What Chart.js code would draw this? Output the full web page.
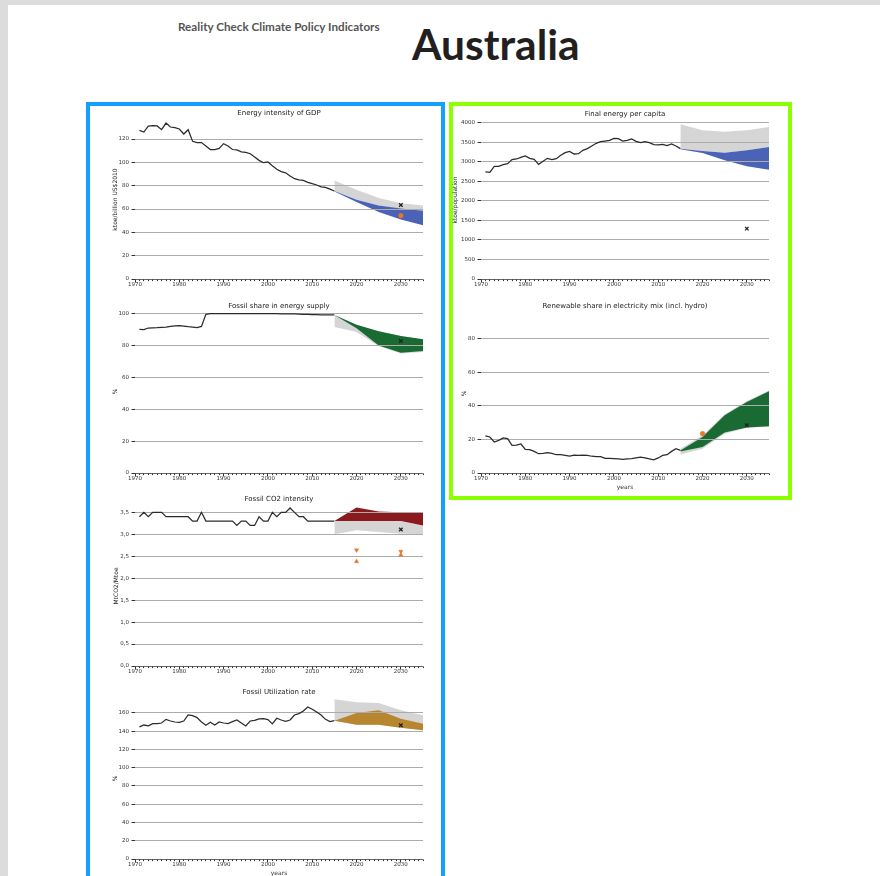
<!DOCTYPE html>
<html>
<head>
<meta charset="utf-8">
<title>Reality Check Climate Policy Indicators – Australia</title>
<script src="https://cdn.jsdelivr.net/npm/chart.js@4.4.1/dist/chart.umd.min.js"></script>
<style>
  html, body { margin: 0; padding: 0; }
  body { width: 880px; height: 876px; overflow: hidden; background: #dcdcdc; position: relative; }
  #sheet { position: absolute; left: 8px; top: 5px; width: 872px; height: 871px; background: #fff; }
  .frame { position: absolute; box-sizing: border-box; }
  #frameLeft { left: 86px; top: 102px; width: 359px; height: 800px; border: 4px solid #14a0ff; }
  #frameRight { left: 449px; top: 102px; width: 343px; height: 398px; border: 4px solid #8cff00; }
  #kicker { position: absolute; left: 178px; top: 20px; font: 700 11.7px/13px Lato, sans-serif; color: #555; white-space: nowrap; }
  #country { position: absolute; left: 412px; top: 23px; font: 700 42.5px/42px Lato, sans-serif; color: #231f20; white-space: nowrap; }
  canvas { position: absolute; }
</style>
</head>
<body>
<div id="sheet"></div>
<div class="frame" id="frameLeft"></div>
<div class="frame" id="frameRight"></div>
<div id="kicker">Reality Check Climate Policy Indicators</div>
<div id="country">Australia</div>
<script>
// ---------- data ----------
const histYears = [1971, 1972, 1973, 1974, 1975, 1976, 1977, 1978, 1979, 1980,
                   1981, 1982, 1983, 1984, 1985, 1986, 1987, 1988, 1989, 1990,
                   1991, 1992, 1993, 1994, 1995, 1996, 1997, 1998, 1999, 2000,
                   2001, 2002, 2003, 2004, 2005, 2006, 2007, 2008, 2009, 2010,
                   2011, 2012, 2013, 2014, 2015];
const projYears = [2015, 2020, 2025, 2030, 2035];

// Energy intensity of GDP (ktoe/billion US$2010)
const energyIntensity = [127.4, 126.0, 131.0, 131.4, 131.2, 128.0, 133.7, 130.3, 129.7, 128.6,
                         124.3, 128.0, 118.0, 117.0, 117.0, 114.0, 111.0, 111.0, 112.0, 116.0,
                         114.0, 111.0, 110.6, 109.0, 108.6, 107.4, 104.6, 101.7, 99.7, 100.3,
                         97.0, 94.0, 92.0, 91.0, 88.3, 86.0, 85.0, 84.6, 82.9, 81.7,
                         80.6, 79.0, 78.6, 77.0, 75.4];
const eiGreyHigh = [84.5, 76.5, 69.5, 65.0, 63.0];
const eiGreyLow  = [75.4, 68.0, 63.0, 60.0, 58.0];
const eiBandHigh = [75.4, 68.0, 63.0, 60.5, 58.5];
const eiBandLow  = [75.0, 66.0, 57.5, 51.0, 46.0];
const eiCross = [[2030, 63.4]];
const eiDot   = [[2030, 54.3]];

// Fossil share in energy supply (%)
const fossilShare = [90.2, 90.0, 91.0, 91.1, 91.2, 91.4, 91.6, 92.0, 92.3, 92.5,
                     92.2, 91.8, 91.5, 91.2, 92.0, 99.6, 100.0, 100.0, 100.0, 100.0,
                     100.0, 100.0, 100.0, 100.0, 100.0, 100.0, 100.0, 100.0, 100.0, 100.0,
                     100.0, 100.0, 99.9, 99.9, 99.9, 99.8, 99.7, 99.6, 99.5, 99.4,
                     99.4, 99.3, 99.3, 99.2, 99.2];
const fsGreyHigh = [99.2, 93.1, 89.0, 86.0, 83.9];
const fsGreyLow  = [91.6, 88.5, 79.5, 75.0, 76.0];
const fsBandHigh = [99.2, 93.1, 89.0, 86.0, 83.9];
const fsBandLow  = [99.2, 90.8, 80.0, 75.5, 76.5];
const fsCross = [[2030, 82.8]];

// Fossil CO2 intensity (MtCO2/Mtoe)
const co2Intensity = [3.4, 3.5, 3.4, 3.5, 3.5, 3.5, 3.4, 3.4, 3.4, 3.4,
                      3.4, 3.4, 3.3, 3.3, 3.5, 3.3, 3.3, 3.3, 3.3, 3.3,
                      3.3, 3.3, 3.2, 3.3, 3.3, 3.2, 3.2, 3.4, 3.3, 3.3,
                      3.5, 3.4, 3.5, 3.5, 3.6, 3.5, 3.4, 3.4, 3.3, 3.3,
                      3.3, 3.3, 3.3, 3.3, 3.3];
const ciGreyHigh = [3.30, 3.30, 3.30, 3.30, 3.20];
const ciGreyLow  = [3.00, 3.09, 3.05, 3.01, 3.00];
const ciBandHigh = [3.30, 3.61, 3.52, 3.50, 3.50];
const ciBandLow  = [3.30, 3.30, 3.30, 3.30, 3.20];
const ciCross = [[2030, 3.11]];
const ciTriDown = [[2020, 2.64], [2030, 2.61]];
const ciTriUp   = [[2020, 2.38], [2030, 2.53]];

// Fossil utilization rate (%)
const utilization = [144.7, 146.8, 145.8, 148.3, 148.3, 149.0, 153.0, 151.2, 150.1, 149.8,
                     151.2, 157.8, 157.0, 154.9, 150.1, 146.5, 149.8, 146.8, 150.1, 149.0,
                     148.3, 150.5, 152.3, 149.0, 145.8, 151.2, 152.0, 153.4, 153.8, 152.7,
                     148.0, 154.2, 152.3, 150.9, 152.3, 157.8, 159.3, 162.2, 166.6, 164.0,
                     161.0, 157.8, 153.0, 150.5, 151.6];
const urGreyHigh = [175.0, 171.7, 171.0, 163.0, 157.4];
const urGreyLow  = [151.6, 147.2, 147.2, 143.9, 141.0];
const urBandHigh = [151.6, 160.0, 163.0, 153.8, 148.3];
const urBandLow  = [151.6, 147.2, 147.2, 143.9, 141.0];
const urCross = [[2030, 146.5]];

// Final energy per capita (ktoe/population)
const energyPerCapita = [2744, 2735, 2889, 2889, 2932, 2957, 3060, 3077, 3120, 3154,
                         3094, 3068, 2940, 3017, 3094, 3060, 3085, 3171, 3239, 3273,
                         3205, 3214, 3299, 3342, 3410, 3479, 3521, 3538, 3556, 3607,
                         3598, 3538, 3556, 3590, 3530, 3496, 3521, 3496, 3444, 3436,
                         3453, 3419, 3462, 3410, 3342];
const fcGreyHigh = [3966, 3812, 3778, 3812, 3897];
const fcGreyLow  = [3342, 3282, 3239, 3299, 3385];
const fcBandHigh = [3342, 3282, 3239, 3299, 3385];
const fcBandLow  = [3325, 3230, 3043, 2889, 2803];
const fcCross = [[2030, 1291]];

// Renewable share in electricity mix (%)
const renewableShare = [22.1, 21.5, 18.5, 19.5, 20.9, 20.5, 16.5, 16.7, 17.3, 14.1,
                        13.9, 12.9, 11.5, 11.7, 12.1, 11.7, 10.9, 10.9, 10.5, 10.1,
                        10.7, 10.5, 10.7, 10.5, 10.0, 9.8, 9.8, 8.8, 8.8, 8.6,
                        8.4, 8.2, 8.4, 8.6, 9.0, 9.4, 9.0, 8.4, 7.8, 9.0,
                        10.5, 10.9, 12.9, 14.5, 13.5];
const rsGreyHigh = [14.5, 22.5, 35.0, 43.0, 49.2];
const rsGreyLow  = [11.0, 14.5, 23.5, 27.0, 27.6];
const rsBandHigh = [13.5, 21.5, 34.4, 42.4, 48.8];
const rsBandLow  = [12.9, 15.5, 24.1, 27.1, 27.9];
const rsCross = [[2030, 28.5]];
const rsDot   = [[2020, 23.5]];

// ---------- styling ----------
const FONT = "'DejaVu Sans', sans-serif";
const GRID = '#acacac';
const INK = '#2b2b2b';
const GREY_BAND = '#d5d5d5';
const ORANGE = '#e4762f';
Chart.defaults.font.family = FONT;

const pts = (xs, ys) => xs.map((x, i) => ({ x, y: ys[i] }));
const pairs = list => list.map(([x, y]) => ({ x, y }));

function bandSets(high, low, color) {
  return [
    { data: pts(projYears, high), fill: '+1', backgroundColor: color, borderColor: 'transparent',
      borderWidth: 0, pointRadius: 0 },
    { data: pts(projYears, low), fill: false, borderColor: 'transparent', borderWidth: 0, pointRadius: 0 }
  ];
}
function historySet(values) {
  return { data: pts(histYears, values), borderColor: INK, borderWidth: 1.25, pointRadius: 0, fill: false };
}
function markerSet(list, style, color, radius, rotation) {
  const cross = style === 'crossRot';
  return {
    data: pairs(list), showLine: false, fill: false,
    pointStyle: style, pointRadius: radius, pointRotation: rotation || 0,
    pointBackgroundColor: color, pointBorderColor: color,
    pointBorderWidth: cross ? 1.3 : 0.4
  };
}

// Panel title, grid redrawn over the range bands, and a yearly-ticked x axis line.
function panelDecor(title, titleY) {
  return {
    id: 'panelDecor',
    beforeDatasetsDraw(chart) {
      const { ctx, chartArea: a, scales: { y } } = chart;
      ctx.save();
      ctx.strokeStyle = GRID;
      ctx.lineWidth = 1;
      y.ticks.forEach(t => {
        const p = Math.round(y.getPixelForValue(t.value) - 0.5) + 0.5;
        ctx.beginPath(); ctx.moveTo(a.left, p); ctx.lineTo(a.right, p); ctx.stroke();
      });
      ctx.restore();
    },
    afterDraw(chart) {
      const { ctx, chartArea: a, scales: { x } } = chart;
      ctx.save();
      const base = Math.round(a.bottom - 0.5) + 0.5;
      ctx.strokeStyle = '#555';
      ctx.lineWidth = 0.8;
      ctx.beginPath(); ctx.moveTo(a.left, base); ctx.lineTo(a.right, base); ctx.stroke();
      ctx.strokeStyle = '#333';
      ctx.lineWidth = 1;
      for (let yr = Math.ceil(x.min); yr <= x.max; yr++) {
        const px = Math.round(x.getPixelForValue(yr) - 0.5) + 0.5;
        const len = yr % 10 === 0 ? 3 : 1.6;
        ctx.beginPath(); ctx.moveTo(px, base); ctx.lineTo(px, base + len); ctx.stroke();
      }
      ctx.fillStyle = '#222';
      ctx.font = '7px ' + FONT;
      ctx.textAlign = 'center';
      ctx.textBaseline = 'middle';
      ctx.fillText(title, (a.left + a.right) / 2, titleY);
      ctx.restore();
    }
  };
}

// Regular ticks from zero up to the top of the value range.
function stepTicks(step, max) {
  const out = [];
  for (let i = 0; i * step <= max + 1e-9; i++) out.push({ value: Math.round(i * step * 1000) / 1000 });
  return out;
}

function makePanel(p) {
  const c = document.createElement('canvas');
  c.width = p.box.w; c.height = p.box.h;
  c.style.left = p.box.x + 'px'; c.style.top = p.box.y + 'px';
  c.style.width = p.box.w + 'px'; c.style.height = p.box.h + 'px';
  document.body.appendChild(c);

  const yW = p.area.L - p.box.x;
  const xH = 18;
  const padRight = p.box.x + p.box.w - p.area.R;
  const padTop = p.area.T - p.box.y;
  const padBottom = p.box.y + p.box.h - p.area.B - xH;

  new Chart(c, {
    type: 'line',
    data: { datasets: p.datasets },
    options: {
      responsive: false, animation: false, events: [], devicePixelRatio: 1,
      layout: { padding: { left: 0, right: padRight, top: padTop, bottom: padBottom } },
      plugins: { legend: { display: false }, tooltip: { enabled: false },
                 filler: { drawTime: 'beforeDatasetsDraw' } },
      scales: {
        x: {
          type: 'linear', min: 1970, max: 2035,
          afterBuildTicks(s) { s.ticks = stepTicks(10, 65).map(t => ({ value: 1970 + t.value })); },
          ticks: { autoSkip: false, maxRotation: 0,
                   font: { size: 5.5 }, color: '#333', padding: 2, callback: v => String(v) },
          grid: { display: false, drawTicks: false },
          border: { display: false },
          title: { display: !!p.xTitle, text: p.xTitle || '', font: { size: 6 }, color: '#333',
                   padding: { top: 0, bottom: 0 } },
          afterFit(s) { s.height = xH; s.paddingLeft = 0; s.paddingRight = 0; s.paddingTop = 0; s.paddingBottom = 0; }
        },
        y: {
          min: 0, max: p.ymax,
          afterBuildTicks(s) { s.ticks = stepTicks(p.step, p.ymax); },
          ticks: { font: { size: 5.5 }, color: '#333',
                   padding: 2.5, callback: p.fmt || (v => String(v)) },
          grid: { color: GRID, lineWidth: 1, drawTicks: true, tickLength: 3.5, tickColor: '#333' },
          border: { display: false },
          title: { display: true, text: p.yTitle, font: { size: 6 }, color: '#222',
                   padding: { top: p.yTitleX - p.box.x - 3.6, bottom: 0 } },
          afterFit(s) { s.width = yW; s.paddingLeft = 0; s.paddingRight = 0; s.paddingTop = 0; s.paddingBottom = 0; }
        }
      }
    },
    plugins: [panelDecor(p.title, p.titleY - p.box.y)]
  });
}

// ---------- panels ----------
makePanel({
  box: { x: 92, y: 106, w: 348, h: 190 }, area: { L: 135, R: 423, T: 120, B: 279 },
  ymax: 136.3, step: 20, yTitle: 'ktoe/billion US$2010', yTitleX: 115,
  title: 'Energy intensity of GDP', titleY: 113,
  datasets: [
    markerSet(eiCross, 'crossRot', '#222', 2.5),
    markerSet(eiDot, 'circle', ORANGE, 2.4),
    historySet(energyIntensity),
    ...bandSets(eiBandHigh, eiBandLow, '#4a63b6'),
    ...bandSets(eiGreyHigh, eiGreyLow, GREY_BAND)
  ]
});

makePanel({
  box: { x: 92, y: 298, w: 348, h: 190 }, area: { L: 135, R: 423, T: 310, B: 473 },
  ymax: 102.3, step: 20, yTitle: '%', yTitleX: 115,
  title: 'Fossil share in energy supply', titleY: 306,
  datasets: [
    markerSet(fsCross, 'crossRot', '#222', 2.5),
    historySet(fossilShare),
    ...bandSets(fsBandHigh, fsBandLow, '#196b33'),
    ...bandSets(fsGreyHigh, fsGreyLow, GREY_BAND)
  ]
});

makePanel({
  box: { x: 92, y: 490, w: 348, h: 190 }, area: { L: 135, R: 423, T: 506, B: 666 },
  ymax: 3.644, step: 0.5, yTitle: 'MtCO2/Mtoe', yTitleX: 116.5,
  fmt: v => v.toFixed(1).replace('.', ','),
  title: 'Fossil CO2 intensity', titleY: 499,
  datasets: [
    markerSet(ciCross, 'crossRot', '#222', 2.5),
    markerSet(ciTriDown, 'triangle', ORANGE, 2.5, 180),
    markerSet(ciTriUp, 'triangle', ORANGE, 2.5, 0),
    historySet(co2Intensity),
    ...bandSets(ciBandHigh, ciBandLow, '#8b1a1e'),
    ...bandSets(ciGreyHigh, ciGreyLow, GREY_BAND)
  ]
});

makePanel({
  box: { x: 92, y: 684, w: 348, h: 192 }, area: { L: 135, R: 423, T: 698, B: 859 },
  ymax: 176.4, step: 20, yTitle: '%', yTitleX: 115, xTitle: 'years',
  title: 'Fossil Utilization rate', titleY: 692,
  datasets: [
    markerSet(urCross, 'crossRot', '#222', 2.5),
    historySet(utilization),
    ...bandSets(urBandHigh, urBandLow, '#b8862e'),
    ...bandSets(urGreyHigh, urGreyLow, GREY_BAND)
  ]
});

makePanel({
  box: { x: 449, y: 106, w: 338, h: 190 }, area: { L: 481, R: 769, T: 121, B: 279 },
  ymax: 4051, step: 500, yTitle: 'ktoe/population', yTitleX: 455.5,
  title: 'Final energy per capita', titleY: 114,
  datasets: [
    markerSet(fcCross, 'crossRot', '#222', 2.5),
    historySet(energyPerCapita),
    ...bandSets(fcBandHigh, fcBandLow, '#4a63b6'),
    ...bandSets(fcGreyHigh, fcGreyLow, GREY_BAND)
  ]
});

makePanel({
  box: { x: 449, y: 298, w: 338, h: 198 }, area: { L: 481, R: 769, T: 314, B: 473 },
  ymax: 94.9, step: 20, yTitle: '%', yTitleX: 464, xTitle: 'years',
  title: 'Renewable share in electricity mix (incl. hydro)', titleY: 306,
  datasets: [
    markerSet(rsCross, 'crossRot', '#222', 2.5),
    markerSet(rsDot, 'circle', ORANGE, 2.4),
    historySet(renewableShare),
    ...bandSets(rsBandHigh, rsBandLow, '#196b33'),
    ...bandSets(rsGreyHigh, rsGreyLow, GREY_BAND)
  ]
});
</script>
</body>
</html>
